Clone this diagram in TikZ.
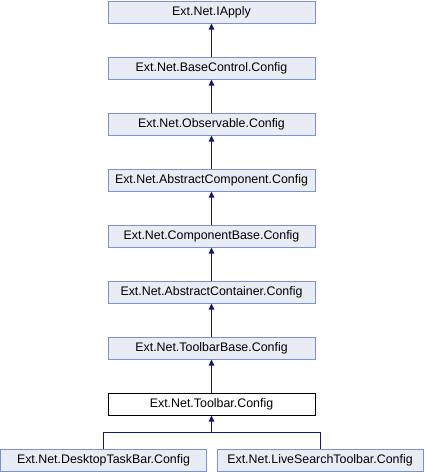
\documentclass[tikz,border=0pt]{standalone}
\usepackage{fontspec}
\setmainfont{Liberation Sans}
\usetikzlibrary{arrows.meta}
\definecolor{boxfill}{RGB}{232,236,244}
\definecolor{boxline}{RGB}{124,146,200}
\definecolor{edgecol}{RGB}{25,25,112}
\begin{document}
\begin{tikzpicture}[x=1pt,y=-1pt,
  cls/.style={draw=boxline,fill=boxfill,line width=1pt,minimum width=207pt,minimum height=22pt,inner sep=0pt,font=\fontsize{12.4}{14}\selectfont},
  cur/.style={cls,draw=black,fill=white},
  inh/.style={draw=edgecol,line width=1pt,-{Triangle[length=6pt,width=5.5pt]}},
  plain/.style={draw=edgecol,line width=1pt}]
\useasboundingbox (0,0) rectangle (424,472);
\node[cls] (n0) at (211.5,12) {Ext.Net.IApply};
\node[cls] (n1) at (211.5,68) {Ext.Net.BaseControl.Config};
\node[cls] (n2) at (211.5,124) {Ext.Net.Observable.Config};
\node[cls] (n3) at (211.5,180) {Ext.Net.AbstractComponent.Config};
\node[cls] (n4) at (211.5,236) {Ext.Net.ComponentBase.Config};
\node[cls] (n5) at (211.5,292) {Ext.Net.AbstractContainer.Config};
\node[cls] (n6) at (211.5,348) {Ext.Net.ToolbarBase.Config};
\node[cur] (n7) at (211.5,404) {Ext.Net.Toolbar.Config};
\node[cls,minimum width=206pt] (n8) at (103.5,460) {Ext.Net.DesktopTaskBar.Config};
\node[cls,minimum width=206pt] (n9) at (320,460) {Ext.Net.LiveSearchToolbar.Config};
\coordinate (j) at (211.5,432);
\draw[inh] (n1.north) -- (n0.south);
\draw[inh] (n2.north) -- (n1.south);
\draw[inh] (n3.north) -- (n2.south);
\draw[inh] (n4.north) -- (n3.south);
\draw[inh] (n5.north) -- (n4.south);
\draw[inh] (n6.north) -- (n5.south);
\draw[inh] (n7.north) -- (n6.south);
\draw[plain] (n8.north) |- (j);
\draw[plain] (n9.north) |- (j);
\draw[inh] (j) -- (n7.south);
\end{tikzpicture}
\end{document}
